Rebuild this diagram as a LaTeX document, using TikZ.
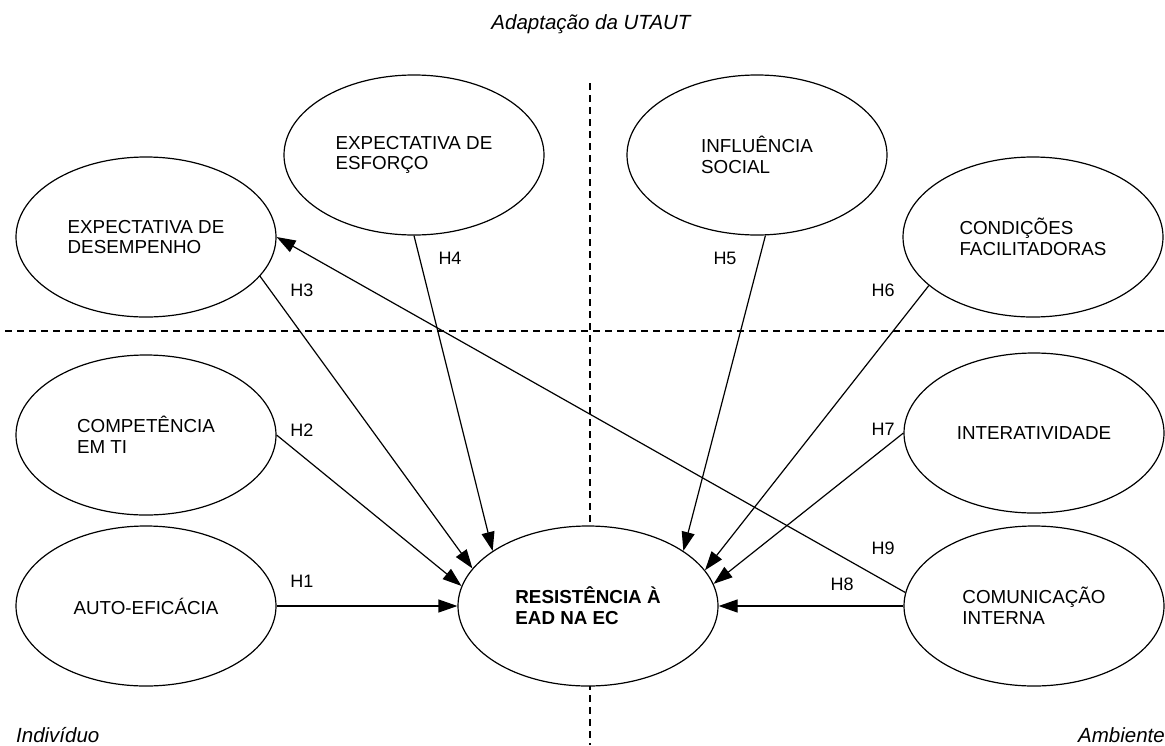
\documentclass[tikz,border=0pt]{standalone}
\usepackage{fontspec}
\setmainfont{Liberation Sans}
\usetikzlibrary{arrows.meta,shapes.geometric}

\begin{document}
\begin{tikzpicture}[x=1pt,y=-1pt,
  construto/.style={draw,ellipse,fill=white,line width=1.2pt,minimum width=260pt,minimum height=160pt,inner sep=0pt,align=left,font=\fontsize{18.8}{20.7}\selectfont},
  hipo/.style={line width=1.2pt,-{Triangle[length=19pt,width=13pt]}},
  divisa/.style={line width=1.1pt,dash pattern=on 7pt off 5pt},
  hrot/.style={font=\fontsize{18}{20}\selectfont,inner sep=0pt},
  canto/.style={font=\fontsize{20.5}{22}\selectfont\itshape,inner sep=0pt}]
\useasboundingbox (0,0) rectangle (1165,745);
% quadrantes
\draw[divisa] (590,83) -- (590,745);
\draw[divisa] (5,331) -- (1165,331);
\node[canto] (titulo) at (591,24) {Adaptação da UTAUT};
\node[canto,anchor=west] (individuo) at (16,735) {Indivíduo};
\node[canto,anchor=east] (ambiente) at (1165,735) {Ambiente};
% construtos
\node[construto] (desemp) at (146,237) {EXPECTATIVA DE\\DESEMPENHO};
\node[construto] (esforco) at (414,155) {EXPECTATIVA DE\\ESFORÇO};
\node[construto] (social) at (757,155) {INFLUÊNCIA\\SOCIAL};
\node[construto] (condic) at (1033,237) {CONDIÇÕES\\FACILITADORAS};
\node[construto] (compet) at (146,435) {COMPETÊNCIA\\EM TI};
\node[construto] (interat) at (1034,433) {INTERATIVIDADE};
\node[construto] (autoef) at (146,606) {AUTO-EFICÁCIA};
\node[construto,font=\fontsize{18.8}{20.7}\selectfont\bfseries] (resist) at (588,606) {RESISTÊNCIA À\\EAD NA EC};
\node[construto] (comunic) at (1034,606) {COMUNICAÇÃO\\INTERNA};
% hipoteses
\draw[hipo] (autoef.east) -- (resist.west);
\draw[hipo] (compet.east) -- (resist.171);
\draw[hipo] (desemp.-19) -- (resist.162);
\draw[hipo] (esforco.south) -- (resist.150);
\draw[hipo] (social.-84) -- (resist.30);
\draw[hipo] (condic.205) -- (resist.17);
\draw[hipo] (interat.west) -- (resist.10);
\draw[hipo] (comunic.west) -- (resist.east);
\draw[hipo] (comunic.174) -- (desemp.east);
\node[hrot] (h1) at (302,581) {H1};
\node[hrot] (h2) at (302,430) {H2};
\node[hrot] (h3) at (302,290) {H3};
\node[hrot] (h4) at (450,258) {H4};
\node[hrot] (h5) at (725,258) {H5};
\node[hrot] (h6) at (883,290) {H6};
\node[hrot] (h7) at (883,429) {H7};
\node[hrot] (h8) at (842,584) {H8};
\node[hrot] (h9) at (883,548) {H9};
\end{tikzpicture}
\end{document}
